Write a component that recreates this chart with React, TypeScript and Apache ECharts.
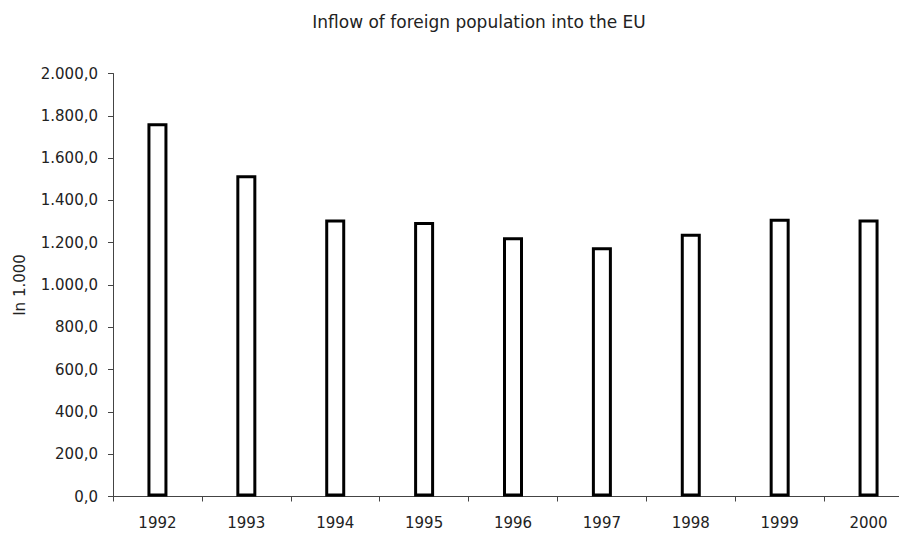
import React, { useEffect, useRef } from "react";
import * as echarts from "echarts";

const categories = ["1992", "1993", "1994", "1995", "1996", "1997", "1998", "1999", "2000"];
const inflow = [1765, 1519, 1310, 1298, 1226, 1179, 1242, 1313, 1310];

const FONT = "'DejaVu Sans', sans-serif";

export default function App() {
  const ref = useRef<HTMLDivElement>(null);
  useEffect(() => {
    const chart = echarts.init(ref.current!, null, { renderer: "svg" });
    chart.setOption({
      animation: false,
      backgroundColor: "#ffffff",
      title: {
        text: "Inflow of foreign population into the EU",
        left: 466,
        top: 0,
        textAlign: "center",
        textStyle: { fontFamily: FONT, fontSize: 17, fontWeight: "normal", color: "#222" },
      },
      grid: {
        left: 105,
        top: 65.5,
        width: 800,
        bottom: 34.5,
        containLabel: false,
        outerBoundsMode: "none",
      },
      xAxis: {
        type: "category",
        data: categories,
        axisLine: { lineStyle: { color: "#444", width: 1 } },
        axisTick: { show: true, length: 5, lineStyle: { color: "#444" } },
        axisLabel: { fontFamily: FONT, fontSize: 15, color: "#222", margin: 19 },
        splitLine: { show: false },
      },
      yAxis: {
        type: "value",
        min: 0,
        max: 2000,
        interval: 200,
        name: "In 1.000",
        nameLocation: "middle",
        nameGap: 86,
        nameRotate: 90,
        nameTextStyle: { fontFamily: FONT, fontSize: 15, color: "#222" },
        axisLine: { show: true, lineStyle: { color: "#444", width: 1 } },
        axisTick: { show: true, length: 5, lineStyle: { color: "#444" } },
        axisLabel: {
          fontFamily: FONT,
          fontSize: 15,
          color: "#222",
          margin: 15,
          formatter: (v: number) => {
            const s = Math.round(v).toString().replace(/\B(?=(\d{3})+(?!\d))/g, ".");
            return s + ",0";
          },
        },
        splitLine: { show: false },
      },
      series: [
        {
          type: "bar",
          data: inflow,
          barWidth: 20,
          itemStyle: { color: "#ffffff", borderColor: "#000000", borderWidth: 3 },
        },
      ],
    });
    return () => chart.dispose();
  }, []);
  return <div ref={ref} style={{ width: 899, height: 523 }} />;
}
